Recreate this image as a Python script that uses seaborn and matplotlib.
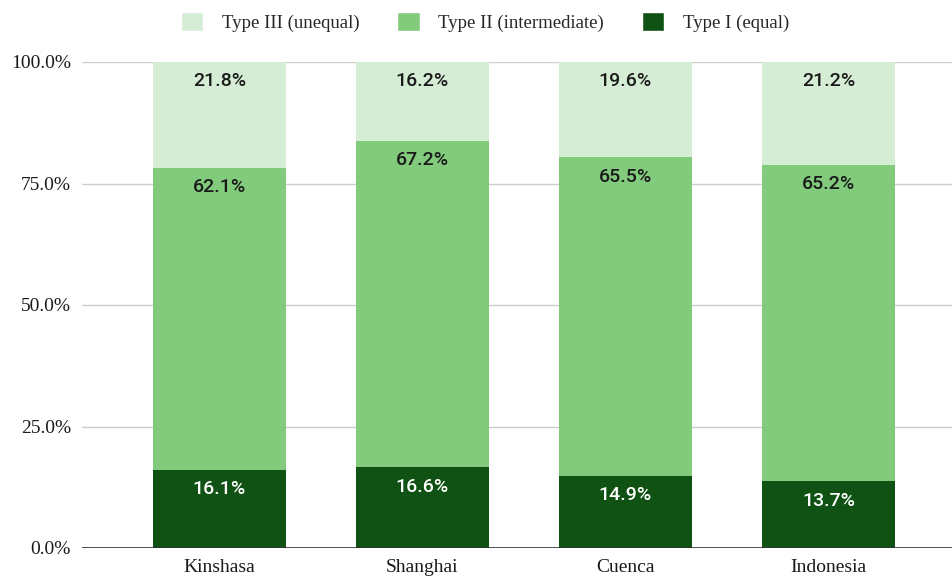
import matplotlib
matplotlib.use("Agg")
import matplotlib.pyplot as plt
import seaborn as sns
import numpy as np
import pandas as pd
from matplotlib.patches import Patch
from matplotlib.ticker import FuncFormatter

categories = ["Kinshasa", "Shanghai", "Cuenca", "Indonesia"]
type_i = [16.1, 16.6, 14.9, 13.7]
type_ii = [62.1, 67.2, 65.5, 65.2]
type_iii = [21.8, 16.2, 19.6, 21.2]
series_names = ["Type III (unequal)", "Type II (intermediate)", "Type I (equal)"]
yticks = [0, 25, 50, 75, 100]

c_dark = "#0f5213"
c_mid = "#82cb7c"
c_light = "#d5edd5"

sns.set_theme(style="white")
plt.rcParams["font.family"] = ["Liberation Serif", "DejaVu Serif"]

fig = plt.figure(figsize=(9.53, 5.79), dpi=100)
ax = fig.add_axes([82 / 953, 1 - 548 / 579, 1 - 82 / 953, (548 - 62) / 579])

t1 = np.array(type_i)
t2 = np.array(type_ii)
t3 = np.array(type_iii)
cum2 = t1 + t2
cum3 = t1 + t2 + t3

for grid_y in yticks[1:]:
    ax.axhline(grid_y, color="#cccccc", lw=1, zorder=0)

width = 133 / 203
df = pd.DataFrame({"cat": categories, "c3": cum3, "c2": cum2, "c1": t1})
sns.barplot(data=df, x="cat", y="c3", color=c_light, width=width, ax=ax,
            saturation=1, linewidth=0, zorder=2)
sns.barplot(data=df, x="cat", y="c2", color=c_mid, width=width, ax=ax,
            saturation=1, linewidth=0, zorder=3)
sns.barplot(data=df, x="cat", y="c1", color=c_dark, width=width, ax=ax,
            saturation=1, linewidth=0, zorder=4)

ax.axhline(0, color="#333333", lw=1.2, zorder=5)

lab_font = dict(family=["Roboto", "DejaVu Sans"], fontsize=14, fontweight="medium")
for i in range(len(categories)):
    ax.annotate(f"{t3[i]:.1f}%", (i, cum3[i]), xytext=(0, -14), textcoords="offset points",
                ha="center", va="center", color="#1a1a1a", zorder=6, **lab_font)
    ax.annotate(f"{t2[i]:.1f}%", (i, cum2[i]), xytext=(0, -14), textcoords="offset points",
                ha="center", va="center", color="#1a1a1a", zorder=6, **lab_font)
    ax.annotate(f"{t1[i]:.1f}%", (i, t1[i]), xytext=(0, -14), textcoords="offset points",
                ha="center", va="center", color="white", zorder=6, **lab_font)

ax.set_xlim(-137.5 / 203, 3 + (953 - 828.5) / 203)
ax.set_ylim(0, 100)
ax.set_yticks(yticks)
ax.yaxis.set_major_formatter(FuncFormatter(lambda v, p: f"{v:.1f}%"))
ax.set_xlabel("")
ax.set_ylabel("")
ax.tick_params(axis="both", length=0, labelsize=14, colors="#1a1a1a")
ax.tick_params(axis="y", pad=8)
ax.tick_params(axis="x", pad=8)
for s in ax.spines.values():
    s.set_visible(False)

handles = [Patch(facecolor=c_light), Patch(facecolor=c_mid), Patch(facecolor=c_dark)]
fig.legend(handles, series_names, loc="center", bbox_to_anchor=(485 / 953, 1 - 22 / 579),
           ncol=3, frameon=False, fontsize=13.5, handlelength=1.2, handleheight=1.2,
           handletextpad=1.0, columnspacing=2.0)

fig.savefig("out.png", dpi=100)
